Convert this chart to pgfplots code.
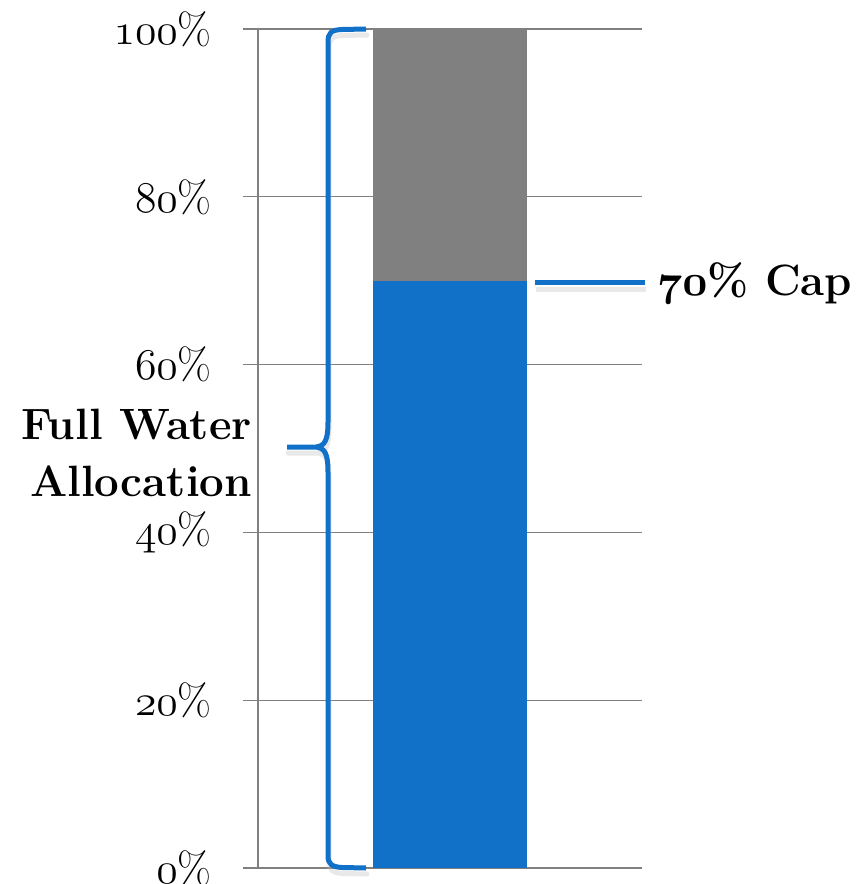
\documentclass[border=0pt]{standalone}
\usepackage{fix-cm}
\usepackage{pgfplots}
\pgfplotsset{compat=1.18}
\definecolor{capblue}{RGB}{17,112,199}
\definecolor{capgrey}{RGB}{128,128,128}
\definecolor{gridgrey}{RGB}{128,128,128}
\makeatletter
\newcommand\osf[1]{{\fontencoding{OML}\fontfamily{cmm}\fontseries{m}\fontshape{it}\fontsize{\f@size}{\f@baselineskip}\selectfont #1}}
\newcommand\osfb[1]{{\fontencoding{OML}\fontfamily{cmm}\fontseries{b}\fontshape{it}\fontsize{\f@size}{\f@baselineskip}\selectfont #1}}
\makeatother
\begin{document}
\begin{tikzpicture}
\path[use as bounding box] (0,0) rectangle (859bp,-884bp);
\begin{axis}[
  at={(258bp,-868bp)}, anchor=south west,
  scale only axis, width=384bp, height=839bp,
  xmin=0, xmax=1, ymin=0, ymax=100,
  axis lines*=left,
  axis line style={gridgrey, line width=1.3bp},
  xtick=\empty,
  ytick={0,20,40,60,80,100},
  yticklabels={\osf{0}\%,\osf{20}\%,\osf{40}\%,\osf{60}\%,\osf{80}\%,\osf{100}\%},
  ymajorgrids,
  major grid style={gridgrey, line width=1.3bp},
  major tick length=15bp,
  tick align=outside,
  tick style={gridgrey, line width=1.3bp},
  yticklabel style={font=\fontsize{44}{52}\selectfont, anchor=east, inner sep=0pt, xshift=-31bp},
  ybar stacked, bar width=0.401,
]
\addplot[fill=capblue, draw=none] coordinates {(0.5,70)};
\addplot[fill=capgrey, draw=none] coordinates {(0.5,30)};
\end{axis}
\begin{scope}[x=1bp,y=-1bp]
% shadows
\draw[black!25, opacity=0.35, line width=5bp, shift={(1,6)}, line cap=round]
  (366,29) -- (342,29.5) .. controls (331,30) and (328,33) .. (328,42) -- (328,422)
  .. controls (328,440) and (325,446) .. (316,447) -- (287,447)
  (316,447) .. controls (325,448) and (328,454) .. (328,472) -- (328,856)
  .. controls (328,864) and (332,867) .. (342,867.5) -- (366,868);
\draw[black!25, opacity=0.35, line width=5bp, shift={(1,7)}] (535,282) -- (645,282);
% brace
\draw[capblue, line width=5bp, line join=round]
  (366,29) -- (342,29.5) .. controls (331,30) and (328,33) .. (328,42) -- (328,422)
  .. controls (328,440) and (325,446) .. (316,447) -- (287,447)
  (316,447) .. controls (325,448) and (328,454) .. (328,472) -- (328,856)
  .. controls (328,864) and (332,867) .. (342,867.5) -- (366,868);
\draw[capblue, line width=5bp] (535,282) -- (645,282);
\node[anchor=base east, inner sep=0pt, font=\fontsize{44}{52}\selectfont\bfseries] at (252,439) {Full Water};
\node[anchor=base east, inner sep=0pt, font=\fontsize{44}{52}\selectfont\bfseries] at (252,496) {Allocation};
\node[anchor=base west, inner sep=0pt, font=\fontsize{44}{52}\selectfont\bfseries] at (657,295) {\osfb{70}\% Cap};
\end{scope}
\end{tikzpicture}
\end{document}
